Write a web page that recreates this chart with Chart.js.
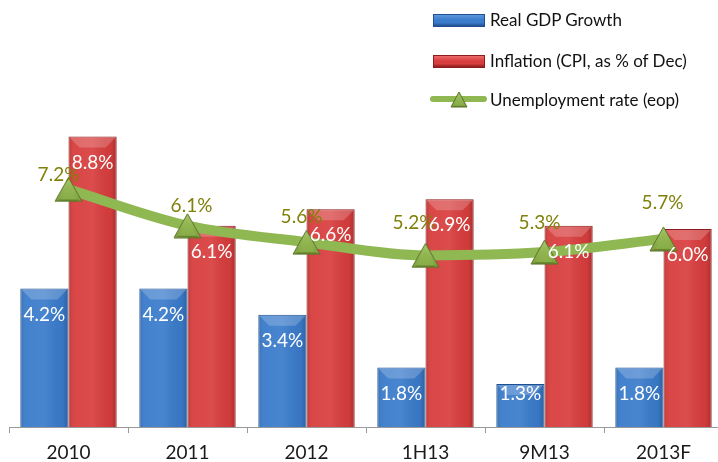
<!DOCTYPE html>
<html>
<head>
<meta charset="utf-8">
<script src="https://cdn.jsdelivr.net/npm/chart.js@4"></script>
<style>
  html, body { margin:0; padding:0; background:#ffffff; overflow:hidden; width:718px; height:462px; }
  #wrap { position:absolute; left:0; top:0; width:723px; height:462px; }
  #legend { position:absolute; left:430px; top:0; font-family:Lato, "Open Sans", sans-serif; font-size:17px; color:#111; }
  .li { position:absolute; left:0; white-space:nowrap; height:20px; }
  .li span.t { position:absolute; left:60px; top:0; line-height:20px; }
  .sym { position:absolute; }
</style>
</head>
<body>
<div id="wrap"><canvas id="c" width="723" height="462"></canvas></div>
<div id="legend"></div>
<script>
// ---- data ----
const categories = ["2010", "2011", "2012", "1H13", "9M13", "2013F"];
const gdpGrowth = [4.2, 4.2, 3.4, 1.8, 1.3, 1.8];
const inflation = [8.8, 6.1, 6.6, 6.9, 6.1, 6.0];
const unemployment = [7.2, 6.1, 5.6, 5.2, 5.3, 5.7];
const seriesNames = ["Real GDP Growth", "Inflation (CPI, as % of Dec)", "Unemployment rate (eop)"];

// label nudges for the unemployment labels (pixels, relative to point)
const lineLabelNudge = [[-10,-15],[4,-20],[-5,-25],[-12,-33],[-5,-29],[-1,-36]];

const FONT = 'Lato, "Open Sans", sans-serif';
const BLUE = '#3a7bcb', BLUE_EDGE = '#1f4f8e';
const RED = '#d83d3d', RED_EDGE = '#8e1c1c';
const GREEN = '#8fb853', TRI_EDGE = '#5a7428';
const OLIVE = '#80800a';

function makeTriangle(w, h) {
  const cv = document.createElement('canvas');
  cv.width = w; cv.height = h;
  const g = cv.getContext('2d');
  const ax = w/2, ay = 1, lx = 1, rx = w-1, by = h-1;
  g.beginPath(); g.moveTo(ax, ay); g.lineTo(rx, by); g.lineTo(lx, by); g.closePath();
  const gr = g.createLinearGradient(0, 0, 0, h);
  gr.addColorStop(0, '#a9c96a'); gr.addColorStop(1, '#7d9f3c');
  g.fillStyle = gr; g.fill();
  const ins = h*0.22;
  g.beginPath(); g.moveTo(ax, ay+ins*1.1); g.lineTo(rx-ins*0.9, by-ins*0.35); g.lineTo(lx+ins*0.9, by-ins*0.35); g.closePath();
  const gr2 = g.createLinearGradient(0, 0, 0, h);
  gr2.addColorStop(0, '#9cc05a'); gr2.addColorStop(1, '#86aa45');
  g.fillStyle = gr2; g.fill();
  g.beginPath(); g.moveTo(lx, by); g.lineTo(rx, by); g.lineTo(rx-ins*0.9, by-ins*0.35); g.lineTo(lx+ins*0.9, by-ins*0.35); g.closePath();
  g.fillStyle = 'rgba(60,80,20,0.35)'; g.fill();
  g.beginPath(); g.moveTo(ax, ay); g.lineTo(rx, by); g.lineTo(lx, by); g.closePath();
  g.strokeStyle = TRI_EDGE; g.lineWidth = 1; g.stroke();
  return cv;
}
const triBig = makeTriangle(29, 26);
const triSmall = makeTriangle(18, 17);

// ---- legend (HTML) ----
(function buildLegend(){
  const lg = document.getElementById('legend');
  const rows = [
    {top:10, kind:'bar', c1:'#5c97dc', c2:BLUE, e:BLUE_EDGE},
    {top:51, kind:'bar', c1:'#ec6a6a', c2:RED, e:RED_EDGE},
    {top:90, kind:'line'}
  ];
  rows.forEach((r, i) => {
    const d = document.createElement('div'); d.className='li'; d.style.top = r.top+'px';
    if (r.kind === 'bar') {
      const s = document.createElement('div'); s.className='sym';
      s.style.cssText = `position:absolute;left:3px;top:4px;width:50px;height:11px;border:1px solid ${r.e};background:linear-gradient(to bottom, ${r.c1}, ${r.c2} 45%, ${r.c2} 70%, ${r.e});`;
      d.appendChild(s);
    } else {
      const s = document.createElement('div');
      s.style.cssText = `position:absolute;left:0;top:6px;width:57px;height:6px;border-radius:3px;background:${GREEN};`;
      d.appendChild(s);
      const im = document.createElement('img'); im.src = triSmall.toDataURL();
      im.style.cssText = 'position:absolute;left:20px;top:1px;width:18px;height:17px;';
      d.appendChild(im);
    }
    const t = document.createElement('span'); t.className='t'; t.textContent = seriesNames[i];
    d.appendChild(t);
    lg.appendChild(d);
  });
})();

// ---- bar shading plugin ----
const shadePlugin = {
  id: 'shade',
  afterDatasetDraw(chart, args) {
    const meta = args.meta;
    if (meta.type !== 'bar') return;
    const ctx = chart.ctx;
    ctx.save();
    meta.data.forEach(el => {
      const l = el.x - el.width/2, r = el.x + el.width/2, t = el.y, b = el.base;
      const g = ctx.createLinearGradient(l, 0, r, 0);
      g.addColorStop(0, 'rgba(0,0,0,0.15)');
      g.addColorStop(0.12, 'rgba(255,255,255,0.05)');
      g.addColorStop(0.5, 'rgba(255,255,255,0.08)');
      g.addColorStop(0.88, 'rgba(0,0,0,0.04)');
      g.addColorStop(1, 'rgba(0,0,0,0.22)');
      ctx.fillStyle = g;
      ctx.fillRect(l+1, t+1, r-l-2, b-t-1);
      const bh = Math.min(10, (b-t)/3);
      ctx.beginPath();
      ctx.moveTo(l+1, t+1); ctx.lineTo(r-1, t+1); ctx.lineTo(r-1-bh, t+1+bh); ctx.lineTo(l+1+bh, t+1+bh); ctx.closePath();
      ctx.fillStyle = 'rgba(255,255,255,0.2)'; ctx.fill();
    });
    ctx.restore();
  }
};

// ---- labels plugin ----
const labelPlugin = {
  id: 'labels',
  afterDraw(chart) {
    const ctx = chart.ctx;
    ctx.save();
    ctx.font = '19px ' + FONT;
    ctx.textAlign = 'center';
    ctx.textBaseline = 'middle';
    chart.data.datasets.forEach((ds, di) => {
      const meta = chart.getDatasetMeta(di);
      meta.data.forEach((el, i) => {
        const txt = ds.data[i].toFixed(1) + '%';
        if (meta.type === 'bar') {
          const y = Math.min(el.y + 26, el.base - 33);
          ctx.fillStyle = '#ffffff';
          ctx.fillText(txt, el.x, y);
        } else {
          ctx.fillStyle = OLIVE;
          ctx.fillText(txt, el.x + lineLabelNudge[i][0], el.y + lineLabelNudge[i][1]);
        }
      });
    });
    ctx.restore();
  }
};

new Chart(document.getElementById('c'), {
  type: 'bar',
  data: {
    labels: categories,
    datasets: [
      { type:'line', label: seriesNames[2], data: unemployment, order: 0,
        borderColor: GREEN, borderWidth: 10, tension: 0.4, cubicInterpolationMode: 'monotone',
        pointStyle: triBig, pointRadius: 14, pointHoverRadius: 14, fill: false, borderCapStyle: 'round' },
      { label: seriesNames[0], data: gdpGrowth, order: 1, backgroundColor: BLUE, borderColor: BLUE_EDGE, borderWidth: 1,
        barPercentage: 1.0, categoryPercentage: 0.81 },
      { label: seriesNames[1], data: inflation, order: 1, backgroundColor: RED, borderColor: RED_EDGE, borderWidth: 1,
        barPercentage: 1.0, categoryPercentage: 0.81 }
    ]
  },
  options: {
    responsive: false,
    animation: false,
    layout: { autoPadding: false, padding: { left: 9, top: 31, right: 0, bottom: 0 } },
    plugins: { legend: { display: false }, tooltip: { enabled: false } },
    scales: {
      y: { display: false, min: 0, max: 12 },
      x: {
        offset: true,
        grid: { display: true, drawOnChartArea: false, drawTicks: true, tickLength: 6, color: '#9a9a9a', offset: true },
        border: { display: true, color: '#9a9a9a', width: 1 },
        ticks: { font: { family: FONT, size: 19 }, color: '#1a1a1a', padding: 8 },
        afterFit(scale) { scale.height = 35; scale.paddingLeft = 0; scale.paddingRight = 0; }
      }
    }
  },
  plugins: [shadePlugin, labelPlugin]
});
</script>
</body>
</html>
